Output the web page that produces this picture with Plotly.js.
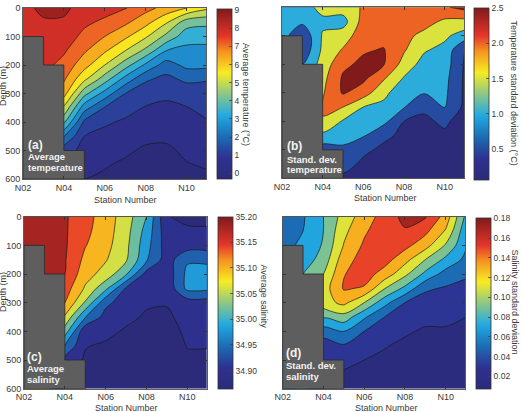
<!DOCTYPE html>
<html><head><meta charset="utf-8">
<script src="https://cdn.plot.ly/plotly-3.0.1.min.js"></script>
<style>html,body{margin:0;padding:0;background:#fff}#chart{width:522px;height:412px}</style>
</head><body><div id="chart"></div>
<script>
// ---------------- DATA ----------------
const stations = [2,3,4,5,6,7,8,9,10,11];
const depths = [0,50,100,150,200,250,300,350,400,450,500,550,600];
const stationTickVals = [2,4,6,8,10];
const stationTickText = ['N02','N04','N06','N08','N10'];
const depthTicks = [0,100,200,300,400,500,600];

// seabed (grey) : station edges and seabed depth between them
const bathyStations = [2,3,4,5];
const bathyDepths = [100,200,500];
const bottomDepth = 600;

// each inner array = one station (N02..N11), values at depths 0..600 m every 50 m
const avgTemp = [
 [8.0,7.95,7.9,7.8,7.6,7.3,7.0,6.5,6.0,5.0,4.0,3.0,2.0],
 [8.45,8.15,8.0,7.9,7.75,7.5,7.0,6.0,5.0,4.0,3.0,2.0,1.0],
 [8.4,8.15,7.9,7.6,7.25,6.85,6.3,5.15,3.9,2.3,1.1,0.5,0.0],
 [7.95,7.65,7.3,6.85,6.3,5.4,4.0,2.55,1.35,0.75,0.5,0.25,0.0],
 [7.8,7.35,6.75,6.1,5.25,4.1,2.7,1.45,0.85,0.55,0.35,0.05,-0.1],
 [7.55,6.9,6.15,5.25,4.1,2.7,1.5,1.0,0.65,0.4,0.1,-0.1,-0.2],
 [7.0,6.25,5.35,4.3,2.85,1.6,1.1,0.7,0.45,0.15,-0.1,-0.2,-0.25],
 [6.5,5.35,4.3,3.0,1.9,1.3,0.9,0.6,0.4,0.1,-0.1,-0.2,-0.25],
 [6.0,4.1,3.3,2.8,2.45,1.65,1.05,0.72,0.5,0.3,0.1,-0.03,-0.15],
 [5.4,3.95,3.25,2.8,2.45,1.55,1.2,0.95,0.7,0.5,0.28,0.05,-0.1]
];
const sdTemp = [
 [1.0,0.95,0.95,0.9,0.9,0.9,0.9,0.9,0.9,0.9,0.9,0.9,0.9],
 [1.05,0.85,0.35,0.35,0.75,0.9,0.9,0.9,0.9,0.9,0.9,0.9,0.9],
 [1.4,1.15,1.3,1.35,1.45,1.6,1.7,1.8,1.72,1.1,0.5,0.3,0.2],
 [1.5,1.05,1.5,1.8,2.15,2.32,2.3,1.75,1.2,1.05,0.6,0.35,0.2],
 [1.8,1.95,2.05,2.2,2.35,2.35,2.0,1.25,1.1,0.8,0.3,0.2,0.15],
 [1.9,2.0,2.1,2.28,2.28,1.8,1.35,1.15,0.9,0.3,0.2,0.15,0.12],
 [2.05,2.0,1.9,1.8,1.55,1.2,1.0,0.78,0.25,0.2,0.15,0.12,0.1],
 [2.2,1.95,1.6,1.3,1.05,0.9,0.78,0.3,0.2,0.17,0.14,0.12,0.1],
 [2.2,1.65,1.35,1.1,1.0,0.9,0.85,0.76,0.3,0.2,0.15,0.12,0.1],
 [2.4,1.6,1.0,0.2,0.18,0.16,0.15,0.13,0.12,0.11,0.1,0.1,0.1]
];
const avgSal = [
 [35.20,35.20,35.19,35.19,35.185,35.18,35.17,35.16,35.15,35.14,35.13,35.12,35.11],
 [35.20,35.20,35.19,35.185,35.18,35.17,35.16,35.15,35.14,35.13,35.12,35.11,35.10],
 [35.165,35.165,35.165,35.163,35.16,35.14,35.12,35.075,35.02,34.96,34.905,34.87,34.86],
 [35.135,35.13,35.122,35.11,35.095,35.075,35.035,34.962,34.89,34.882,34.875,34.87,34.865],
 [35.10,35.098,35.093,35.083,35.065,35.01,34.93,34.905,34.89,34.875,34.87,34.865,34.86],
 [35.06,35.055,35.05,35.045,35.005,34.915,34.90,34.89,34.875,34.87,34.865,34.86,34.86],
 [35.00,34.985,34.975,34.965,34.905,34.895,34.885,34.875,34.87,34.865,34.86,34.86,34.855],
 [34.882,34.895,34.9,34.9,34.895,34.89,34.882,34.875,34.87,34.867,34.863,34.86,34.858],
 [34.872,34.885,34.9,34.955,34.97,34.97,34.9,34.89,34.885,34.881,34.876,34.87,34.865],
 [34.872,34.884,34.9,34.955,34.97,34.97,34.9,34.89,34.885,34.881,34.876,34.87,34.865]
];
const sdSal = [
 [0.05,0.05,0.052,0.055,0.06,0.06,0.06,0.06,0.06,0.06,0.06,0.06,0.06],
 [0.058,0.06,0.065,0.07,0.08,0.09,0.09,0.09,0.09,0.09,0.09,0.09,0.09],
 [0.08,0.08,0.082,0.088,0.1,0.11,0.112,0.082,0.05,0.03,0.025,0.02,0.02],
 [0.108,0.115,0.121,0.132,0.139,0.142,0.125,0.092,0.06,0.038,0.024,0.018,0.015],
 [0.13,0.137,0.143,0.148,0.149,0.138,0.1,0.063,0.04,0.028,0.02,0.016,0.013],
 [0.148,0.152,0.155,0.148,0.132,0.101,0.067,0.04,0.03,0.021,0.017,0.014,0.012],
 [0.166,0.158,0.146,0.127,0.105,0.075,0.04,0.03,0.022,0.017,0.014,0.012,0.01],
 [0.162,0.145,0.128,0.1,0.075,0.043,0.032,0.024,0.018,0.015,0.013,0.011,0.01],
 [0.132,0.118,0.098,0.075,0.052,0.038,0.03,0.022,0.019,0.016,0.014,0.012,0.011],
 [0.075,0.066,0.062,0.055,0.042,0.036,0.03,0.02,0.017,0.015,0.013,0.012,0.011]
];

const avgTempTicks = [0,1,2,3,4,5,6,7,8,9];
const sdTempTicks = [0.5,1.0,1.5,2.0,2.5];
const avgSalTicks = [34.90,34.95,35.00,35.05,35.10,35.15,35.20];
const sdSalTicks = [0.02,0.04,0.06,0.08,0.10,0.12,0.14,0.16,0.18];

// ---------------- STYLE ----------------
const W = 522, H = 412;
const FONT = 'Liberation Sans, Arial, Helvetica, sans-serif';
const TXT = '#3a3a3a';
const FS = 9;
const CBFS = 8.5;
const cbStops = [[0,'#2b2b7a'],[0.125,'#2e3192'],[0.25,'#1c6db5'],[0.375,'#22aae2'],[0.5,'#8cc785'],[0.625,'#f8ec22'],[0.75,'#f6921e'],[0.84,'#e5352a'],[1,'#801a1b']];

function hex2rgb(h){ return [parseInt(h.slice(1,3),16), parseInt(h.slice(3,5),16), parseInt(h.slice(5,7),16)]; }
function colorAt(f){
  f = Math.max(0, Math.min(1, f));
  for (let i = 1; i < cbStops.length; i++) {
    if (f <= cbStops[i][0]) {
      const a = cbStops[i-1], b = cbStops[i];
      const t = (f - a[0]) / (b[0] - a[0]);
      const ca = hex2rgb(a[1]), cb = hex2rgb(b[1]);
      return 'rgb(' + ca.map((v,k) => Math.round(v + t*(cb[k]-v))).join(',') + ')';
    }
  }
  return cbStops[cbStops.length-1][1];
}
function contourScale(start, size, end, cmin, cmax){
  const nc = Math.floor((end + size/1e6 - start)/size) + 1;
  const lo = start - size/2, hi = start + (nc - 0.5)*size;
  const out = [];
  for (let i = 0; i <= 80; i++) { const t = i/80; const v = lo + t*(hi-lo); out.push([t, colorAt((v-cmin)/(cmax-cmin))]); }
  return out;
}

const panels = [
  {z: avgTemp, xa:'x',  ya:'y',  start:0,     size:0.75, end:8.25,  cmin:-0.33,  cmax:9.05,
   cb:{left:216.7, top:9.3, bottom:179.3}, ticks: avgTempTicks, fmt: v => String(v)},
  {z: sdTemp,  xa:'x2', ya:'y2', start:0.25,  size:0.5,  end:2.25,  cmin:0.06,   cmax:2.5,
   cb:{left:474.3, top:8.3, bottom:180}, ticks: sdTempTicks, fmt: v => v.toFixed(1)},
  {z: avgSal,  xa:'x3', ya:'y3', start:34.88, size:0.04, end:35.16, cmin:34.865, cmax:35.2,
   cb:{left:218, top:216.5, bottom:388.7}, ticks: avgSalTicks, fmt: v => v.toFixed(2)},
  {z: sdSal,   xa:'x4', ya:'y4', start:0.02,  size:0.02, end:0.16,  cmin:0.007,  cmax:0.18,
   cb:{left:476, top:218.3, bottom:389.3}, ticks: sdSalTicks, fmt: v => v.toFixed(2)}
];

// seabed polygon from the bathymetry arrays
const bx = [bathyStations[0]], by = [bottomDepth];
for (let i = 0; i < bathyDepths.length; i++) {
  bx.push(bathyStations[i], bathyStations[i+1]);
  by.push(bathyDepths[i], bathyDepths[i]);
}
bx.push(bathyStations[bathyStations.length-1], bathyStations[0]);
by.push(bottomDepth, bottomDepth);

const cbScale = cbStops.map(s => [s[0], s[1]]);
const traces = [];
panels.forEach(p => {
  traces.push({
    type:'contour', x: stations, y: depths, z: p.z, transpose: true,
    xaxis: p.xa, yaxis: p.ya,
    autocontour:false,
    contours:{start:p.start, end:p.end, size:p.size, coloring:'fill', showlines:true},
    colorscale: contourScale(p.start, p.size, p.end, p.cmin, p.cmax),
    line:{color:'#1a1a1a', width:0.7, smoothing:0.9},
    showscale:false, hoverinfo:'skip'
  });
  traces.push({
    type:'scatter', mode:'lines', x: bx, y: by, xaxis:p.xa, yaxis:p.ya,
    fill:'toself', fillcolor:'#5e5e5e', line:{color:'#2a2a2a', width:0.8},
    hoverinfo:'skip', showlegend:false
  });
  traces.push({
    type:'scatter', mode:'markers', x:[null], y:[null], xaxis:p.xa, yaxis:p.ya,
    hoverinfo:'skip', showlegend:false,
    marker:{color:[p.cmin], cmin:p.cmin, cmax:p.cmax, colorscale: cbScale, showscale:true,
      colorbar:{
        x: p.cb.left / W, xanchor:'left', xpad:0, xref:'paper',
        y: 1 - (p.cb.top + p.cb.bottom)/2/H, yanchor:'middle', ypad:0,
        len: (p.cb.bottom - p.cb.top)/H, lenmode:'fraction',
        thickness:14.5, thicknessmode:'pixels',
        outlinewidth:0.8, outlinecolor:'#333',
        ticks:'inside', ticklen:2.5, tickwidth:0.8, tickcolor:'#444',
        tickmode:'array', tickvals: p.ticks, ticktext: p.ticks.map(p.fmt),
        tickfont:{family:FONT, size:CBFS, color:TXT}
      }}
  });
});

function xAxis(l, r, anchor){
  return {domain:[l/W, r/W], anchor, range:[2,10.95], tickmode:'array',
    tickvals: stationTickVals, ticktext: stationTickText,
    ticks:'inside', ticklen:3, tickcolor:'#333', showline:true, linecolor:'#333', linewidth:0.8,
    mirror:'ticks', showgrid:false, zeroline:false, fixedrange:true,
    tickfont:{family:FONT, size:FS, color:TXT}};
}
function yAxis(t, b, anchor, labels){
  return {domain:[1-b/H, 1-t/H], anchor, range:[600,0], tickmode:'array', tickvals: depthTicks,
    ticks:'inside', ticklen:3, tickcolor:'#333', showline:true, linecolor:'#333', linewidth:0.8,
    mirror:'ticks', showgrid:false, zeroline:false, fixedrange:true, showticklabels: labels,
    tickfont:{family:FONT, size:FS, color:TXT}};
}

function ann(text, xpx, ypx, o){
  o = o || {};
  return Object.assign({text, xref:'paper', yref:'paper', x: xpx/W, y: 1 - ypx/H,
    showarrow:false, xanchor:'center', yanchor:'middle', borderpad:0,
    font:{family:FONT, size:FS, color:TXT}}, o);
}
const white = (s) => ({family:FONT, size:s, color:'#f2f2f2'});
const annotations = [
  ann('Depth (m)', 3, 86, {textangle:-90}),
  ann('Depth (m)', 3, 292, {textangle:-90}),
  ann('Station Number', 125, 199.5),
  ann('Station Number', 385, 198.5),
  ann('Station Number', 126, 408),
  ann('Station Number', 386, 407.7),
  ann('Average temperature (°C)', 246, 94, {textangle:90}),
  ann('Temperature standard deviation (°C)', 513.5, 93, {textangle:90}),
  ann('Average salinity', 263.5, 296, {textangle:90}),
  ann('Salinity standard deviation', 514.5, 302, {textangle:90}),
  ann('<b>(a)</b>', 27, 145, {xanchor:'left', font:white(12)}),
  ann('<b>Average</b>', 27, 156.5, {xanchor:'left', font:white(9.5)}),
  ann('<b>temperature</b>', 27, 167.5, {xanchor:'left', font:white(9.5)}),
  ann('<b>(b)</b>', 285.5, 146, {xanchor:'left', font:white(12)}),
  ann('<b>Stand. dev.</b>', 285.5, 159.5, {xanchor:'left', font:white(9.5)}),
  ann('<b>temperature</b>', 285.5, 169.5, {xanchor:'left', font:white(9.5)}),
  ann('<b>(c)</b>', 25.5, 357, {xanchor:'left', font:white(12)}),
  ann('<b>Average</b>', 25.5, 368.7, {xanchor:'left', font:white(9.5)}),
  ann('<b>salinity</b>', 25.5, 379, {xanchor:'left', font:white(9.5)}),
  ann('<b>(d)</b>', 285, 352.5, {xanchor:'left', font:white(12)}),
  ann('<b>Stand. dev.</b>', 285, 365.5, {xanchor:'left', font:white(9.5)}),
  ann('<b>salinity</b>', 285, 376.5, {xanchor:'left', font:white(9.5)})
];

const layout = {
  width:W, height:H, margin:{l:0,r:0,t:0,b:0},
  paper_bgcolor:'#fff', plot_bgcolor:'#fff', showlegend:false,
  font:{family:FONT, color:TXT},
  xaxis:  xAxis(23, 206, 'y'),
  yaxis:  yAxis(8, 179, 'x', true),
  xaxis2: xAxis(282, 464, 'y2'),
  yaxis2: yAxis(7.3, 178.3, 'x2', false),
  xaxis3: xAxis(24, 206.7, 'y3'),
  yaxis3: yAxis(216.7, 388.7, 'x3', true),
  xaxis4: xAxis(282.7, 465, 'y4'),
  yaxis4: yAxis(216.7, 388.7, 'x4', false),
  annotations
};
Plotly.newPlot('chart', traces, layout, {staticPlot:true, displayModeBar:false});
</script>
</body></html>
